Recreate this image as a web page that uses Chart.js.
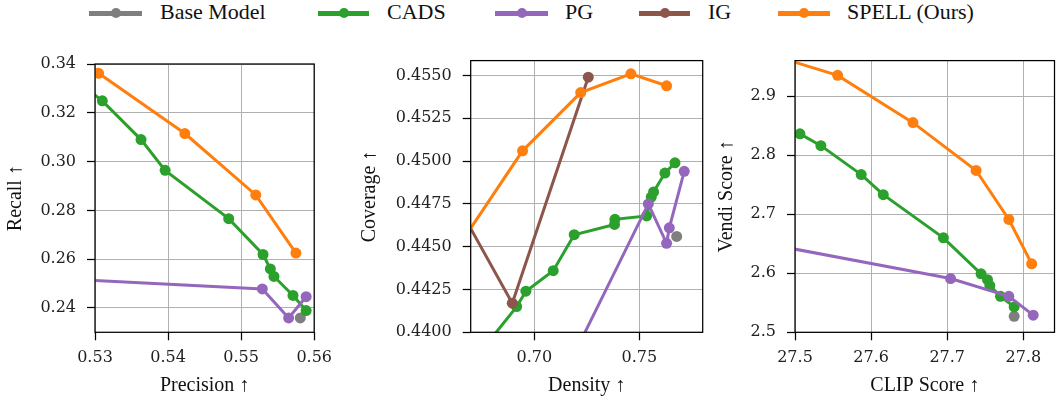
<!DOCTYPE html>
<html>
<head>
<meta charset="utf-8">
<script src="https://cdn.jsdelivr.net/npm/chart.js@4.4.1/dist/chart.umd.min.js"></script>
<style>
  body { margin: 0; background: #fff; width: 1060px; height: 402px; position: relative; overflow: hidden; font-family: "Liberation Serif", serif; }
  .pane { position: absolute; }
  .lg-line { position: absolute; height: 4.5px; top: 11px; }
  .lg-dot { position: absolute; width: 10px; height: 10px; border-radius: 50%; top: 8.2px; }
  .lg-text { position: absolute; top: -1px; font-size: 22px; line-height: 26px; color: #111; white-space: nowrap; }
</style>
</head>
<body>
<div id="legend"></div>
<div class="pane" style="left:0;top:40px;width:340px;height:362px"><canvas id="c1"></canvas></div>
<div class="pane" style="left:350px;top:40px;width:360px;height:362px"><canvas id="c2"></canvas></div>
<div class="pane" style="left:710px;top:40px;width:350px;height:362px"><canvas id="c3"></canvas></div>
<script>
// series
const seriesNames = ['Base Model', 'CADS', 'PG', 'IG', 'SPELL (Ours)'];
const seriesColors = ['#7f7f7f', '#2ca02c', '#9467bd', '#8c564b', '#ff7f0e'];

// Precision / Recall
const prBaseX = [0.5581];
const prBaseY = [0.2359];
const prCadsX = [0.525, 0.5310, 0.5363, 0.5396, 0.5483, 0.5530, 0.5540, 0.5545, 0.5571, 0.5589];
const prCadsY = [0.339, 0.3249, 0.3090, 0.2964, 0.2766, 0.2619, 0.2560, 0.2529, 0.2451, 0.2389];
const prPgX = [0.520, 0.5529, 0.5565, 0.5589];
const prPgY = [0.2527, 0.2478, 0.2359, 0.2446];
const prIgX = [];
const prIgY = [];
const prSpellX = [0.5305, 0.5423, 0.5520, 0.5575];
const prSpellY = [0.3362, 0.3115, 0.2863, 0.2625];
const prXTicks = [0.53, 0.54, 0.55, 0.56];
const prYTicks = [0.24, 0.26, 0.28, 0.30, 0.32, 0.34];

// Density / Coverage
const dcBaseX = [0.7678];
const dcBaseY = [0.4456];
const dcCadsX = [0.6688, 0.6916, 0.6960, 0.7090, 0.7190, 0.7382, 0.7384, 0.7535, 0.7557, 0.7568, 0.7622, 0.7670];
const dcCadsY = [0.4380, 0.4415, 0.4424, 0.4436, 0.4457, 0.4463, 0.4466, 0.4468, 0.4479, 0.4482, 0.4493, 0.4499];
const dcPgX = [0.7161, 0.7543, 0.7630, 0.7643, 0.7714];
const dcPgY = [0.4380, 0.4475, 0.4452, 0.4461, 0.4494];
const dcIgX = [0.66, 0.6895, 0.7257];
const dcIgY = [0.4482, 0.4417, 0.4549];
const dcSpellX = [0.66, 0.6944, 0.7221, 0.7460, 0.7630];
const dcSpellY = [0.4443, 0.4506, 0.4540, 0.4551, 0.4544];
const dcXTicks = [0.70, 0.75];
const dcYTicks = [0.4400, 0.4425, 0.4450, 0.4475, 0.4500, 0.4525, 0.4550];

// CLIP / Vendi
const cvBaseX = [27.788];
const cvBaseY = [2.527];
const cvCadsX = [27.5065, 27.534, 27.587, 27.616, 27.695, 27.7445, 27.753, 27.756, 27.770, 27.788];
const cvCadsY = [2.836, 2.816, 2.767, 2.733, 2.660, 2.599, 2.589, 2.579, 2.561, 2.543];
const cvPgX = [27.45, 27.7044, 27.781, 27.813];
const cvPgY = [2.653, 2.591, 2.561, 2.529];
const cvIgX = [];
const cvIgY = [];
const cvSpellX = [27.45, 27.556, 27.655, 27.738, 27.781, 27.811];
const cvSpellY = [2.977, 2.935, 2.855, 2.774, 2.691, 2.616];
const cvXTicks = [27.5, 27.6, 27.7, 27.8];
const cvYTicks = [2.5, 2.6, 2.7, 2.8, 2.9];

// legend (html)
const lgLine = [[89, 142], [318, 369], [495, 548], [639, 690], [778, 830]];
const lgText = [160, 387, 565, 708, 847];
const legend = document.getElementById('legend');
seriesNames.forEach((name, i) => {
  const [a, b] = lgLine[i];
  legend.insertAdjacentHTML('beforeend',
    `<div class="lg-line" style="left:${a}px;width:${b - a}px;background:${seriesColors[i]}"></div>` +
    `<div class="lg-dot" style="left:${(a + b) / 2 - 5}px;background:${seriesColors[i]}"></div>` +
    `<div class="lg-text" style="left:${lgText[i]}px">${name}</div>`);
});

const frame = {
  id: 'frame',
  afterDraw(chart) {
    const { ctx, chartArea: a } = chart;
    ctx.save();
    ctx.strokeStyle = '#000';
    ctx.lineWidth = 1.25;
    ctx.strokeRect(a.left, a.top, a.right - a.left, a.bottom - a.top);
    ctx.restore();
  }
};

const pts = (xs, ys) => xs.map((x, j) => ({ x: x, y: ys[j] }));

function panel(id, sets, cfg) {
  const datasets = sets.map((s, i) => ({
    label: seriesNames[i],
    data: pts(s[0], s[1]),
    showLine: true,
    borderColor: seriesColors[i],
    backgroundColor: seriesColors[i],
    borderWidth: 3,
    pointRadius: 5.5,
    pointBorderWidth: 0,
    clip: 0,
    order: 5 - i
  }));
  const tickFont = { family: "'DejaVu Serif', 'Liberation Serif', serif", size: 16 };
  const titleFont = { family: "'Liberation Serif', serif", size: 20 };
  new Chart(document.getElementById(id), {
    type: 'scatter',
    data: { datasets },
    plugins: [frame],
    options: {
      responsive: true,
      maintainAspectRatio: false,
      animation: false,
      layout: { padding: cfg.pad },
      plugins: { legend: { display: false }, tooltip: { enabled: false } },
      scales: {
        x: {
          min: cfg.xMin, max: cfg.xMax,
          afterBuildTicks: s => { s.ticks = cfg.xTicks.map(v => ({ value: v })) },
          afterFit: s => { s.height = cfg.xH },
          ticks: { font: tickFont, color: '#222', padding: 8, maxRotation: 0, callback: v => v.toFixed(cfg.xDec) },
          grid: { color: '#b0b0b0', lineWidth: 1, tickColor: '#000', tickLength: 8, tickWidth: 1.25 },
          border: { display: false },
          title: { display: true, text: cfg.xTitle, font: titleFont, color: '#111' }
        },
        y: {
          min: cfg.yMin, max: cfg.yMax,
          afterBuildTicks: s => { s.ticks = cfg.yTicks.map(v => ({ value: v })) },
          afterFit: s => { s.width = cfg.yW },
          ticks: { font: tickFont, color: '#222', padding: 11, callback: v => v.toFixed(cfg.yDec) },
          grid: { color: '#b0b0b0', lineWidth: 1, tickColor: '#000', tickLength: 8, tickWidth: 1.25 },
          border: { display: false },
          title: { display: true, text: cfg.yTitle, font: titleFont, color: '#111' }
        }
      }
    }
  });
}

panel('c1', [[prBaseX, prBaseY], [prCadsX, prCadsY], [prPgX, prPgY], [prIgX, prIgY], [prSpellX, prSpellY]], {
  pad: { left: 0, top: 24, right: 11, bottom: 0 }, yW: 95, xH: 69.7,
  xMin: 0.53, xMax: 0.56, yMin: 0.23, yMax: 0.34, xTicks: prXTicks, yTicks: prYTicks,
  xDec: 2, yDec: 2, xTitle: 'Precision ↑', yTitle: 'Recall ↑'
});
panel('c2', [[dcBaseX, dcBaseY], [dcCadsX, dcCadsY], [dcPgX, dcPgY], [dcIgX, dcIgY], [dcSpellX, dcSpellY]], {
  pad: { left: 4, top: 17.3, right: 7.3, bottom: 0 }, yW: 116.7, xH: 69.7,
  xMin: 0.6697, xMax: 0.7802, yMin: 0.4400, yMax: 0.45587, xTicks: dcXTicks, yTicks: dcYTicks,
  xDec: 2, yDec: 4, xTitle: 'Density ↑', yTitle: 'Coverage ↑'
});
panel('c3', [[cvBaseX, cvBaseY], [cvCadsX, cvCadsY], [cvPgX, cvPgY], [cvIgX, cvIgY], [cvSpellX, cvSpellY]], {
  pad: { left: 1, top: 18.3, right: 1, bottom: 0 }, yW: 84, xH: 69.7,
  xMin: 27.5, xMax: 27.841, yMin: 2.5, yMax: 2.96, xTicks: cvXTicks, yTicks: cvYTicks,
  xDec: 1, yDec: 1, xTitle: 'CLIP Score ↑', yTitle: 'Vendi Score ↑'
});
</script>
</body>
</html>
